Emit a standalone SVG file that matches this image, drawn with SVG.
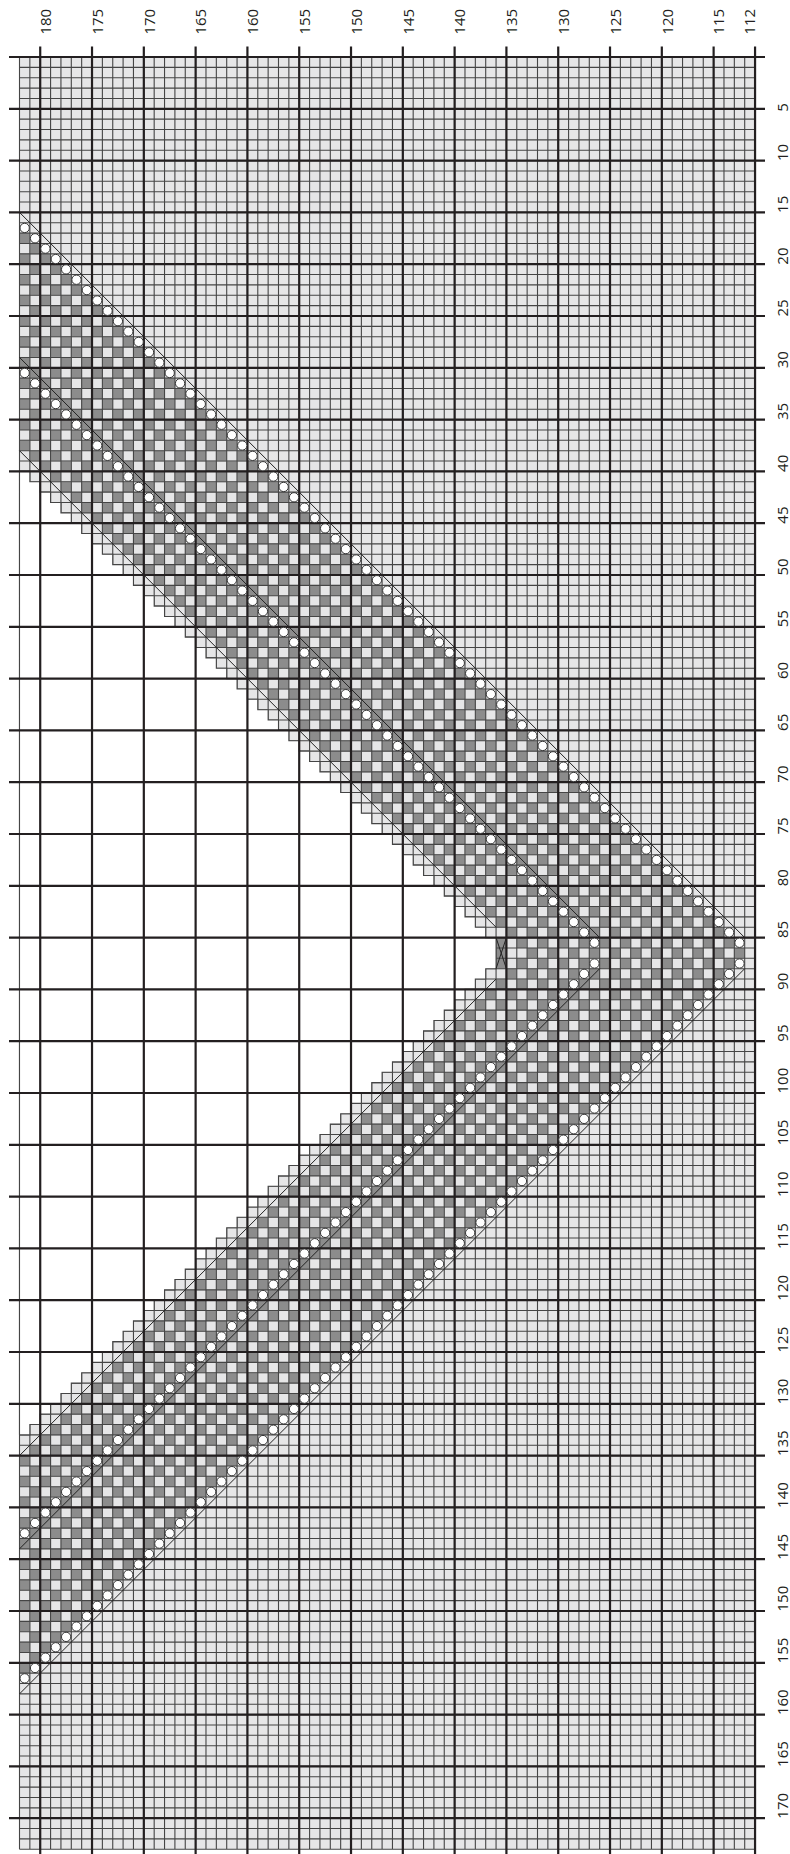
<svg xmlns="http://www.w3.org/2000/svg" width="790" height="1854" viewBox="0 0 790 1854">
<style>
.ns{vector-effect:non-scaling-stroke}
.thin{fill:none;stroke:#454545;stroke-width:1.1}
.open{fill:#fff;stroke:#454545;stroke-width:1.1}
.diag{fill:none;stroke:#222;stroke-width:1}
.yo{fill:#fff;stroke:#333;stroke-width:1}
.thick{fill:none;stroke:#231f20;stroke-width:2.2}
.lbl{font-family:"Open Sans","Liberation Sans",Arial,sans-serif;font-size:15px;fill:#231f20}
</style>
<defs>
<pattern id="ck" patternUnits="userSpaceOnUse" x="0" y="0" width="2" height="2"><rect x="0" y="1" width="1" height="1" fill="#8c8c8c"/><rect x="1" y="0" width="1" height="1" fill="#8c8c8c"/></pattern>
<g id="dd"><circle class="yo ns" cx="0" cy="0" r="0.45"/><circle class="yo ns" cx="1" cy="1" r="0.45"/><circle class="yo ns" cx="2" cy="2" r="0.45"/><circle class="yo ns" cx="3" cy="3" r="0.45"/><circle class="yo ns" cx="4" cy="4" r="0.45"/><circle class="yo ns" cx="5" cy="5" r="0.45"/><circle class="yo ns" cx="6" cy="6" r="0.45"/><circle class="yo ns" cx="7" cy="7" r="0.45"/><circle class="yo ns" cx="8" cy="8" r="0.45"/><circle class="yo ns" cx="9" cy="9" r="0.45"/><circle class="yo ns" cx="10" cy="10" r="0.45"/><circle class="yo ns" cx="11" cy="11" r="0.45"/><circle class="yo ns" cx="12" cy="12" r="0.45"/><circle class="yo ns" cx="13" cy="13" r="0.45"/></g>
<g id="du"><circle class="yo ns" cx="0" cy="0" r="0.45"/><circle class="yo ns" cx="1" cy="-1" r="0.45"/><circle class="yo ns" cx="2" cy="-2" r="0.45"/><circle class="yo ns" cx="3" cy="-3" r="0.45"/><circle class="yo ns" cx="4" cy="-4" r="0.45"/><circle class="yo ns" cx="5" cy="-5" r="0.45"/><circle class="yo ns" cx="6" cy="-6" r="0.45"/><circle class="yo ns" cx="7" cy="-7" r="0.45"/><circle class="yo ns" cx="8" cy="-8" r="0.45"/><circle class="yo ns" cx="9" cy="-9" r="0.45"/><circle class="yo ns" cx="10" cy="-10" r="0.45"/><circle class="yo ns" cx="11" cy="-11" r="0.45"/><circle class="yo ns" cx="12" cy="-12" r="0.45"/><circle class="yo ns" cx="13" cy="-13" r="0.45"/></g>
</defs>
<g id="chart" transform="translate(19.5,57) scale(10.36)">
<rect id="background" x="0" y="0" width="71" height="173" fill="#e6e6e7"/>
<polygon id="chevron-bands" points="0,16 70.5,86.5 0,157 0,135 48.5,86.5 0,38" fill="url(#ck)"/>
<rect id="x-cells" x="46" y="85" width="1" height="3" fill="#8c8c8c"/>
<path id="thin-grid" class="thin ns" vector-effect="non-scaling-stroke" d="M0,0H71M0,1H71M0,2H71M0,3H71M0,4H71M0,5H71M0,6H71M0,7H71M0,8H71M0,9H71M0,10H71M0,11H71M0,12H71M0,13H71M0,14H71M0,15H71M0,16H71M0,17H71M0,18H71M0,19H71M0,20H71M0,21H71M0,22H71M0,23H71M0,24H71M0,25H71M0,26H71M0,27H71M0,28H71M0,29H71M0,30H71M0,31H71M0,32H71M0,33H71M0,34H71M0,35H71M0,36H71M0,37H71M0,38H71M0,39H71M0,40H71M0,41H71M0,42H71M0,43H71M0,44H71M0,45H71M0,46H71M0,47H71M0,48H71M0,49H71M0,50H71M0,51H71M0,52H71M0,53H71M0,54H71M0,55H71M0,56H71M0,57H71M0,58H71M0,59H71M0,60H71M0,61H71M0,62H71M0,63H71M0,64H71M0,65H71M0,66H71M0,67H71M0,68H71M0,69H71M0,70H71M0,71H71M0,72H71M0,73H71M0,74H71M0,75H71M0,76H71M0,77H71M0,78H71M0,79H71M0,80H71M0,81H71M0,82H71M0,83H71M0,84H71M0,85H71M0,86H71M0,87H71M0,88H71M0,89H71M0,90H71M0,91H71M0,92H71M0,93H71M0,94H71M0,95H71M0,96H71M0,97H71M0,98H71M0,99H71M0,100H71M0,101H71M0,102H71M0,103H71M0,104H71M0,105H71M0,106H71M0,107H71M0,108H71M0,109H71M0,110H71M0,111H71M0,112H71M0,113H71M0,114H71M0,115H71M0,116H71M0,117H71M0,118H71M0,119H71M0,120H71M0,121H71M0,122H71M0,123H71M0,124H71M0,125H71M0,126H71M0,127H71M0,128H71M0,129H71M0,130H71M0,131H71M0,132H71M0,133H71M0,134H71M0,135H71M0,136H71M0,137H71M0,138H71M0,139H71M0,140H71M0,141H71M0,142H71M0,143H71M0,144H71M0,145H71M0,146H71M0,147H71M0,148H71M0,149H71M0,150H71M0,151H71M0,152H71M0,153H71M0,154H71M0,155H71M0,156H71M0,157H71M0,158H71M0,159H71M0,160H71M0,161H71M0,162H71M0,163H71M0,164H71M0,165H71M0,166H71M0,167H71M0,168H71M0,169H71M0,170H71M0,171H71M0,172H71M0,173H71M0,0V173M1,0V173M2,0V173M3,0V173M4,0V173M5,0V173M6,0V173M7,0V173M8,0V173M9,0V173M10,0V173M11,0V173M12,0V173M13,0V173M14,0V173M15,0V173M16,0V173M17,0V173M18,0V173M19,0V173M20,0V173M21,0V173M22,0V173M23,0V173M24,0V173M25,0V173M26,0V173M27,0V173M28,0V173M29,0V173M30,0V173M31,0V173M32,0V173M33,0V173M34,0V173M35,0V173M36,0V173M37,0V173M38,0V173M39,0V173M40,0V173M41,0V173M42,0V173M43,0V173M44,0V173M45,0V173M46,0V173M47,0V173M48,0V173M49,0V173M50,0V173M51,0V173M52,0V173M53,0V173M54,0V173M55,0V173M56,0V173M57,0V173M58,0V173M59,0V173M60,0V173M61,0V173M62,0V173M63,0V173M64,0V173M65,0V173M66,0V173M67,0V173M68,0V173M69,0V173M70,0V173M71,0V173"/>
<polygon id="open-area" class="open ns" vector-effect="non-scaling-stroke" points="0,40 1,40 1,41 2,41 2,42 3,42 3,43 4,43 4,44 5,44 5,45 6,45 6,46 7,46 7,47 8,47 8,48 9,48 9,49 10,49 10,50 11,50 11,51 12,51 12,52 13,52 13,53 14,53 14,54 15,54 15,55 16,55 16,56 17,56 17,57 18,57 18,58 19,58 19,59 20,59 20,60 21,60 21,61 22,61 22,62 23,62 23,63 24,63 24,64 25,64 25,65 26,65 26,66 27,66 27,67 28,67 28,68 29,68 29,69 30,69 30,70 31,70 31,71 32,71 32,72 33,72 33,73 34,73 34,74 35,74 35,75 36,75 36,76 37,76 37,77 38,77 38,78 39,78 39,79 40,79 40,80 41,80 41,81 42,81 42,82 43,82 43,83 44,83 44,84 45,84 45,85 46,85 46,88 45,88 45,89 44,89 44,90 43,90 43,91 42,91 42,92 41,92 41,93 40,93 40,94 39,94 39,95 38,95 38,96 37,96 37,97 36,97 36,98 35,98 35,99 34,99 34,100 33,100 33,101 32,101 32,102 31,102 31,103 30,103 30,104 29,104 29,105 28,105 28,106 27,106 27,107 26,107 26,108 25,108 25,109 24,109 24,110 23,110 23,111 22,111 22,112 21,112 21,113 20,113 20,114 19,114 19,115 18,115 18,116 17,116 17,117 16,117 16,118 15,118 15,119 14,119 14,120 13,120 13,121 12,121 12,122 11,122 11,123 10,123 10,124 9,124 9,125 8,125 8,126 7,126 7,127 6,127 6,128 5,128 5,129 4,129 4,130 3,130 3,131 2,131 2,132 1,132 1,133 0,133"/>
<path id="band-edges" class="diag ns" vector-effect="non-scaling-stroke" d="M0,15L70,85M0,29L56,85M0,38L46,84M0,158L70,88M0,144L56,88M0,135L46,89M46,85L47,88M47,85L46,88"/>
</g>
<path id="thick-grid" class="thick" d="M40.22,46.5V1854M92.02,46.5V1854M143.82,46.5V1854M195.62,46.5V1854M247.42,46.5V1854M299.22,46.5V1854M351.02,46.5V1854M402.82,46.5V1854M454.62,46.5V1854M506.42,46.5V1854M558.22,46.5V1854M610.02,46.5V1854M661.82,46.5V1854M713.62,46.5V1854M755.06,46.5V1854M9,57H765M9,108.8H765M9,160.6H765M9,212.4H765M9,264.2H765M9,316H765M9,367.8H765M9,419.6H765M9,471.4H765M9,523.2H765M9,575H765M9,626.8H765M9,678.6H765M9,730.4H765M9,782.2H765M9,834H765M9,885.8H765M9,937.6H765M9,989.4H765M9,1041.2H765M9,1093H765M9,1144.8H765M9,1196.6H765M9,1248.4H765M9,1300.2H765M9,1352H765M9,1403.8H765M9,1455.6H765M9,1507.4H765M9,1559.2H765M9,1611H765M9,1662.8H765M9,1714.6H765M9,1766.4H765M9,1818.2H765"/>
<g id="yarn-overs" transform="translate(19.5,57) scale(10.36)">
<use href="#dd" transform="translate(0.5,16.5)"/><use href="#dd" transform="translate(14.5,30.5)"/><use href="#dd" transform="translate(28.5,44.5)"/><use href="#dd" transform="translate(42.5,58.5)"/><use href="#dd" transform="translate(56.5,72.5)"/>
<use href="#dd" transform="translate(0.5,30.5)"/><use href="#dd" transform="translate(14.5,44.5)"/><use href="#dd" transform="translate(28.5,58.5)"/><use href="#dd" transform="translate(42.5,72.5)"/>
<use href="#du" transform="translate(0.5,156.5)"/><use href="#du" transform="translate(14.5,142.5)"/><use href="#du" transform="translate(28.5,128.5)"/><use href="#du" transform="translate(42.5,114.5)"/><use href="#du" transform="translate(56.5,100.5)"/>
<use href="#du" transform="translate(0.5,142.5)"/><use href="#du" transform="translate(14.5,128.5)"/><use href="#du" transform="translate(28.5,114.5)"/><use href="#du" transform="translate(42.5,100.5)"/>
</g>
<g id="column-labels" class="lbl" text-anchor="middle" dominant-baseline="central">
<text transform="translate(45.02,21.7) rotate(-90)">180</text>
<text transform="translate(96.82,21.7) rotate(-90)">175</text>
<text transform="translate(148.62,21.7) rotate(-90)">170</text>
<text transform="translate(200.42,21.7) rotate(-90)">165</text>
<text transform="translate(252.22,21.7) rotate(-90)">160</text>
<text transform="translate(304.02,21.7) rotate(-90)">155</text>
<text transform="translate(355.82,21.7) rotate(-90)">150</text>
<text transform="translate(407.62,21.7) rotate(-90)">145</text>
<text transform="translate(459.42,21.7) rotate(-90)">140</text>
<text transform="translate(511.22,21.7) rotate(-90)">135</text>
<text transform="translate(563.02,21.7) rotate(-90)">130</text>
<text transform="translate(614.82,21.7) rotate(-90)">125</text>
<text transform="translate(666.62,21.7) rotate(-90)">120</text>
<text transform="translate(718.42,21.7) rotate(-90)">115</text>
<text transform="translate(748.7,21.7) rotate(-90)">112</text>
</g>
<g id="row-labels" class="lbl" text-anchor="start" dominant-baseline="central">
<text transform="translate(781.5,111.8) rotate(-90)">5</text>
<text transform="translate(781.5,161.1) rotate(-90)">10</text>
<text transform="translate(781.5,212.9) rotate(-90)">15</text>
<text transform="translate(781.5,264.7) rotate(-90)">20</text>
<text transform="translate(781.5,316.5) rotate(-90)">25</text>
<text transform="translate(781.5,368.3) rotate(-90)">30</text>
<text transform="translate(781.5,420.1) rotate(-90)">35</text>
<text transform="translate(781.5,471.9) rotate(-90)">40</text>
<text transform="translate(781.5,523.7) rotate(-90)">45</text>
<text transform="translate(781.5,575.5) rotate(-90)">50</text>
<text transform="translate(781.5,627.3) rotate(-90)">55</text>
<text transform="translate(781.5,679.1) rotate(-90)">60</text>
<text transform="translate(781.5,730.9) rotate(-90)">65</text>
<text transform="translate(781.5,782.7) rotate(-90)">70</text>
<text transform="translate(781.5,834.5) rotate(-90)">75</text>
<text transform="translate(781.5,886.3) rotate(-90)">80</text>
<text transform="translate(781.5,938.1) rotate(-90)">85</text>
<text transform="translate(781.5,989.9) rotate(-90)">90</text>
<text transform="translate(781.5,1041.7) rotate(-90)">95</text>
<text transform="translate(781.5,1093.5) rotate(-90)">100</text>
<text transform="translate(781.5,1145.3) rotate(-90)">105</text>
<text transform="translate(781.5,1197.1) rotate(-90)">110</text>
<text transform="translate(781.5,1248.9) rotate(-90)">115</text>
<text transform="translate(781.5,1300.7) rotate(-90)">120</text>
<text transform="translate(781.5,1352.5) rotate(-90)">125</text>
<text transform="translate(781.5,1404.3) rotate(-90)">130</text>
<text transform="translate(781.5,1456.1) rotate(-90)">135</text>
<text transform="translate(781.5,1507.9) rotate(-90)">140</text>
<text transform="translate(781.5,1559.7) rotate(-90)">145</text>
<text transform="translate(781.5,1611.5) rotate(-90)">150</text>
<text transform="translate(781.5,1663.3) rotate(-90)">155</text>
<text transform="translate(781.5,1715.1) rotate(-90)">160</text>
<text transform="translate(781.5,1766.9) rotate(-90)">165</text>
<text transform="translate(781.5,1818.7) rotate(-90)">170</text>
</g>
</svg>
